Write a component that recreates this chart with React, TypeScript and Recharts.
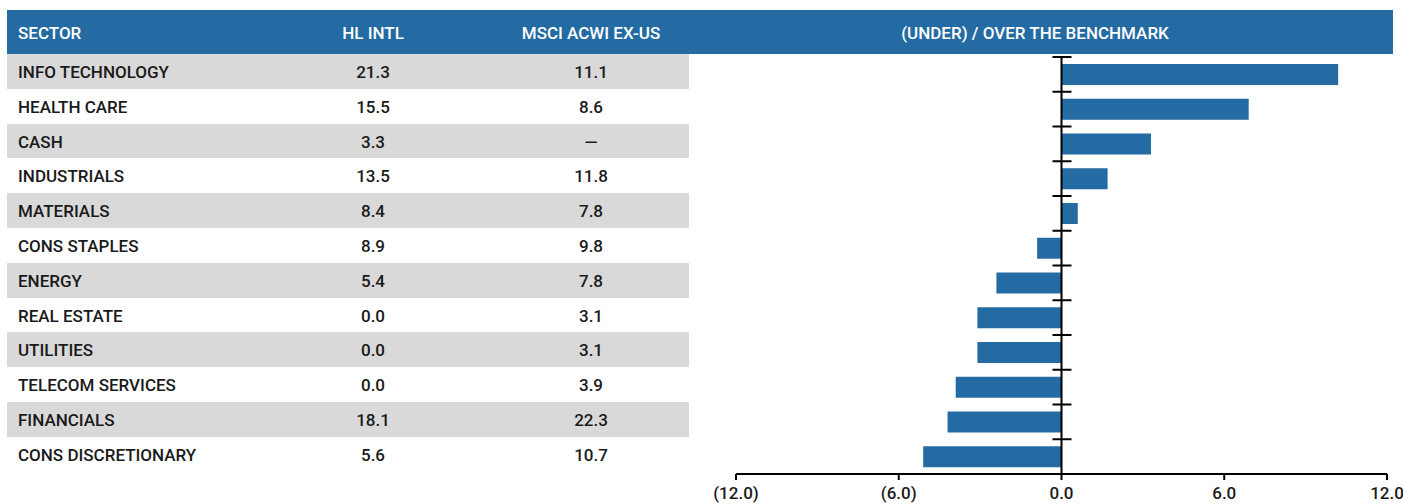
import { BarChart, Bar, XAxis, YAxis, ReferenceLine } from 'recharts';

const sectors = [
    'INFO TECHNOLOGY',
    'HEALTH CARE',
    'CASH',
    'INDUSTRIALS',
    'MATERIALS',
    'CONS STAPLES',
    'ENERGY',
    'REAL ESTATE',
    'UTILITIES',
    'TELECOM SERVICES',
    'FINANCIALS',
    'CONS DISCRETIONARY'
];
const hlIntl = [21.3, 15.5, 3.3, 13.5, 8.4, 8.9, 5.4, 0.0, 0.0, 0.0, 18.1, 5.6];
const msciAcwiExUs: (number | null)[] = [11.1, 8.6, null, 11.8, 7.8, 9.8, 7.8, 3.1, 3.1, 3.9, 22.3, 10.7];
const overUnder = [10.2, 6.9, 3.3, 1.7, 0.6, -0.9, -2.4, -3.1, -3.1, -3.9, -4.2, -5.1];
const xTicks = [-12, -6, 0, 6, 12];

const BLUE = '#246ba3';
const GRAY = '#d9d9d9';
const FONT = 'Roboto, sans-serif';

const chartData = sectors.map((sector, i) => ({ sector, diff: overUnder[i] }));

// chart box
const CH_LEFT = 700;
const CH_TOP = 40;
const CH_W = 703;
const CH_H = 464;
const M = { top: 17, right: 16, bottom: 0, left: 36 };
const X_AXIS_H = 30;
const PLOT_W = CH_W - M.left - M.right;
const PLOT_H = CH_H - M.top - M.bottom - X_AXIS_H;
const BAND = PLOT_H / sectors.length;
const ZERO_X = M.left + PLOT_W / 2;

const fmt = (v: number) => (v < 0 ? `(${Math.abs(v).toFixed(1)})` : v.toFixed(1));

// little cross marks on the zero line, at the edges of each category band
const bandEdge = (last: boolean) => (props: any) => {
    const y = Number(props.y1);
    return (
        <g>
            <line x1={ZERO_X - 9} x2={ZERO_X + 10} y1={y - BAND / 2} y2={y - BAND / 2} stroke='#000' strokeWidth={2} />
            {last && (
                <line x1={ZERO_X - 9} x2={ZERO_X + 10} y1={y + BAND / 2} y2={y + BAND / 2} stroke='#000' strokeWidth={2} />
            )}
        </g>
    );
};

const ROW_TOP = 54;
const ROW_H = 34.8;

const cellText: React.CSSProperties = {
    position: 'absolute',
    fontFamily: FONT,
    fontWeight: 500,
    fontSize: 17,
    lineHeight: '20px',
    color: '#1a1a1a',
    whiteSpace: 'nowrap'
};

const App = () => {
    return (
        <div style={{ position: 'absolute', left: 0, top: 0, width: 1403, height: 504, background: '#fff', overflow: 'hidden' }}>
            {/* header band */}
            <div style={{ position: 'absolute', left: 7, top: 10, width: 1386, height: 44, background: BLUE }} />
            <div style={{ ...cellText, color: '#fff', left: 18, top: 23 }}>SECTOR</div>
            <div style={{ ...cellText, color: '#fff', left: 273, width: 200, textAlign: 'center', top: 23 }}>HL INTL</div>
            <div style={{ ...cellText, color: '#fff', left: 491, width: 200, textAlign: 'center', top: 23 }}>MSCI ACWI EX-US</div>
            <div style={{ ...cellText, color: '#fff', left: 835, width: 400, textAlign: 'center', top: 23 }}>(UNDER) / OVER THE BENCHMARK</div>

            {sectors.map((s, i) => {
                const top = ROW_TOP + i * ROW_H;
                const msci = msciAcwiExUs[i];
                return (
                    <div key={s}>
                        {i % 2 === 0 && (
                            <div style={{ position: 'absolute', left: 7, top, width: 682, height: ROW_H, background: GRAY }} />
                        )}
                        <div style={{ ...cellText, left: 18, top: top + 8 }}>{s}</div>
                        <div style={{ ...cellText, left: 273, width: 200, textAlign: 'center', top: top + 8 }}>
                            {hlIntl[i].toFixed(1)}
                        </div>
                        <div style={{ ...cellText, left: 491, width: 200, textAlign: 'center', top: top + 8 }}>
                            {msci === null ? '—' : msci.toFixed(1)}
                        </div>
                    </div>
                );
            })}

            <div style={{ position: 'absolute', left: CH_LEFT, top: CH_TOP }}>
                <BarChart width={CH_W} height={CH_H} layout='vertical' data={chartData} margin={M}>
                    <XAxis
                        type='number'
                        domain={[-12, 12]}
                        ticks={xTicks}
                        tickFormatter={fmt}
                        height={X_AXIS_H}
                        interval={0}
                        axisLine={{ stroke: '#000', strokeWidth: 2 }}
                        tickLine={{ stroke: '#000', strokeWidth: 2 }}
                        tickSize={6}
                        tickMargin={7}
                        tick={{ fill: '#1a1a1a', fontFamily: FONT, fontWeight: 500, fontSize: 17 }}
                    />
                    <YAxis type='category' dataKey='sector' hide />
                    <ReferenceLine x={0} stroke='#000' strokeWidth={2} />
                    {sectors.map((s, i) => (
                        <ReferenceLine key={s} y={s} shape={bandEdge(i === sectors.length - 1)} />
                    ))}
                    <Bar dataKey='diff' fill={BLUE} barSize={21} isAnimationActive={false} />
                </BarChart>
            </div>
        </div>
    );
};

export default App;
